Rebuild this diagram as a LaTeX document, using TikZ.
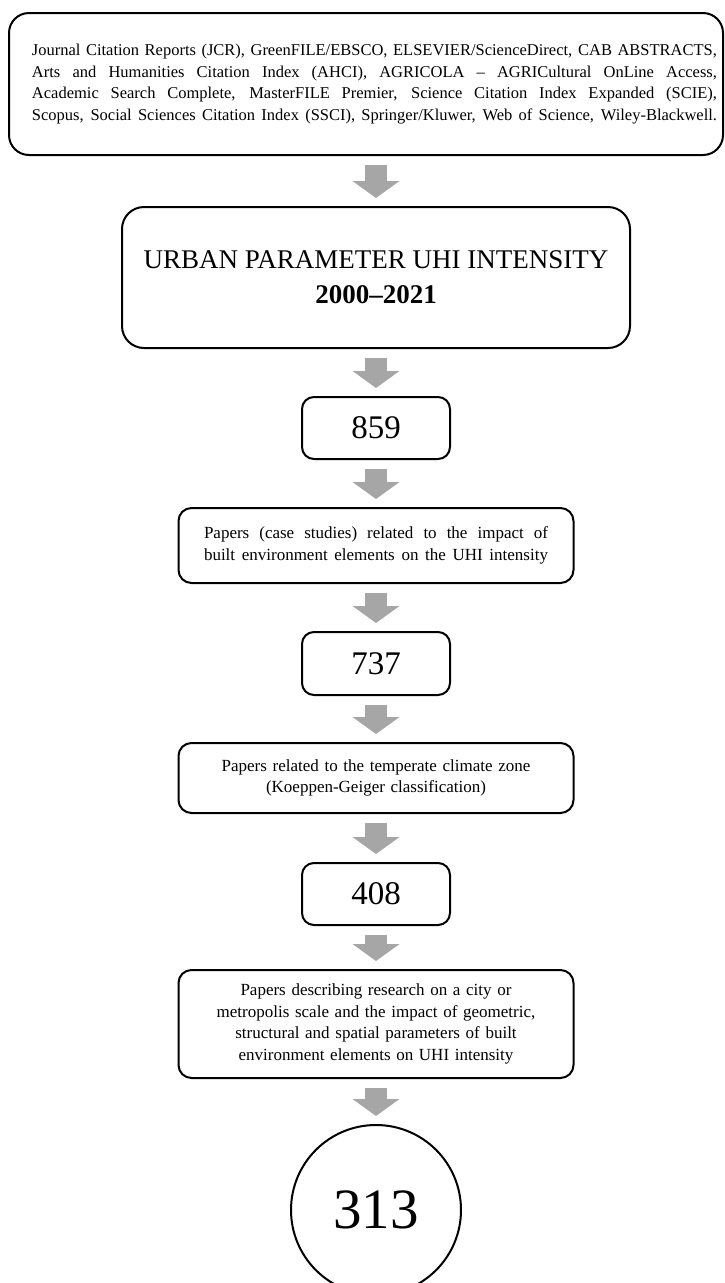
\documentclass[tikz,border=0pt]{standalone}
\usepackage{fontspec}
\setmainfont{Liberation Serif}
\usetikzlibrary{arrows.meta}
\definecolor{arrowgray}{HTML}{A6A6A6}
\newcommand{\fullline}[2]{\hbox to #1{#2}}
\begin{document}
\begin{tikzpicture}[x=1pt, y=-1pt,
    box/.style={draw, line width=2pt, rounded corners=#1, inner sep=0pt, align=center},
    box/.default=13pt,
    note/.style={font=\fontsize{17}{21.7}\selectfont},
    count/.style={box=12pt, minimum width=148pt, minimum height=62pt,
      font=\fontsize{33}{38}\selectfont},
    stage/.style={box, note, minimum width=395pt},
    flow/.style={arrowgray, line width=22pt, shorten <=8.5pt, shorten >=8pt,
      -{Triangle[width=47pt,length=17pt,line width=0pt]}}]
  \useasboundingbox (0,0) rectangle (724,1283);
  \clip (0,0) rectangle (724,1283);
  % sources
  \node (src) at (366,84) [box=20pt, minimum width=714pt, minimum height=142pt,
    font=\fontsize{16.5}{21.5}\selectfont]
    {\fullline{702pt}{\kern17pt Journal Citation Reports (JCR), GreenFILE/EBSCO, ELSEVIER/ScienceDirect, CAB ABSTRACTS,}\\
     \fullline{702pt}{\kern17pt Arts and Humanities Citation Index (AHCI), AGRICOLA -- AGRICultural OnLine Access,}\\
     \fullline{702pt}{\kern17pt Academic Search Complete, MasterFILE Premier, Science Citation Index Expanded (SCIE),}\\
     \fullline{702pt}{\kern17pt Scopus, Social Sciences Citation Index (SSCI), Springer/Kluwer, Web of Science, Wiley-Blackwell.}};
  \node (title) at (376,277.5) [box=22pt, minimum width=508pt, minimum height=141pt,
    font=\fontsize{27}{35}\selectfont]
    {URBAN PARAMETER UHI INTENSITY\\\textbf{2000--2021}};
  % selection steps
  \node (n859) at (376,428) [count] {859};
  \node (case) at (376,545.5) [stage, minimum height=75pt]
    {\fullline{344pt}{Papers (case studies) related to the impact of}\\
     \fullline{344pt}{built environment elements on the UHI intensity}};
  \node (n737) at (376,663.5) [count, minimum height=63pt] {737};
  \node (climate) at (376,778) [stage, minimum height=70pt, text width=380pt]
    {Papers related to the temperate climate zone\\(Koeppen-Geiger classification)};
  \node (n408) at (376,894) [count] {408};
  \node (scale) at (376,1024) [stage, minimum height=108pt, text width=380pt]
    {Papers describing research on a city or\\metropolis scale and the impact of geometric,\\
     structural and spatial parameters of built\\environment elements on UHI intensity};
  \node (n313) at (376,1210) [circle, draw, line width=2pt, minimum size=170pt,
    inner sep=0pt, font=\fontsize{57}{60}\selectfont] {313};
  % arrows
  \draw[flow] (title |- src.south) -- (title.north);
  \draw[flow] (title.south) -- (n859.north);
  \draw[flow] (n859.south) -- (case.north);
  \draw[flow] (case.south) -- (n737.north);
  \draw[flow] (n737.south) -- (climate.north);
  \draw[flow] (climate.south) -- (n408.north);
  \draw[flow] (n408.south) -- (scale.north);
  \draw[flow] (scale.south) -- (n313.north);
\end{tikzpicture}
\end{document}
